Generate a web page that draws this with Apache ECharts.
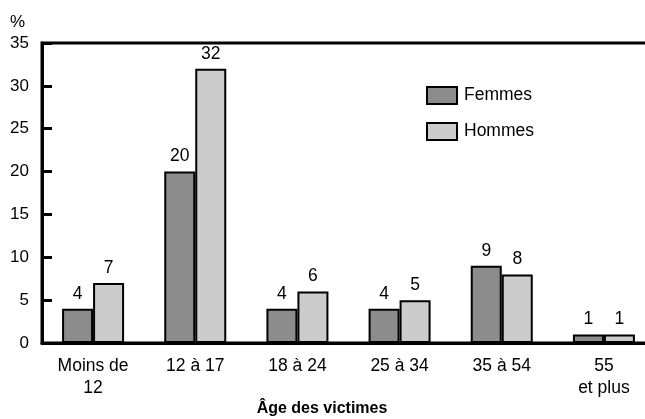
<!DOCTYPE html>
<html>
<head>
<meta charset="utf-8">
<script src="https://cdn.jsdelivr.net/npm/echarts@6/dist/echarts.min.js"></script>
<style>
  html, body { margin: 0; padding: 0; background: #fff; }
  #chart { width: 645px; height: 419px; }
</style>
</head>
<body>
<div id="chart"></div>
<script>
// données
const categories = ['Moins de\n12', '12 à 17', '18 à 24', '25 à 34', '35 à 54', '55\net plus']
const femmes = [4, 20, 4, 4, 9, 1]
const hommes = [7, 32, 6, 5, 8, 1]
const yTicks = [0, 5, 10, 15, 20, 25, 30, 35]

const font = 'Liberation Sans, Arial, sans-serif'

const chart = echarts.init(document.getElementById('chart'))

const barLabel = {
  show: true,
  position: 'top',
  distance: 6,
  color: '#000',
  fontSize: 17.5,
  fontFamily: font
}

chart.setOption({
  animation: false,
  grid: {
    left: 42,
    right: -10,
    top: 43,
    bottom: 76,
    outerBoundsMode: 'none',
    containLabel: false,
    show: true,
    borderColor: '#000',
    borderWidth: 3
  },
  legend: {
    orient: 'vertical',
    left: 421,
    top: 81,
    itemWidth: 30,
    itemHeight: 17,
    itemGap: 17,
    itemStyle: { borderColor: '#000', borderWidth: 2 },
    icon: 'rect',
    textStyle: { fontSize: 17.5, fontFamily: font, color: '#000', padding: [0, 0, 0, 2] },
    data: ['Femmes', 'Hommes']
  },
  graphic: [
    {
      type: 'text',
      left: 10,
      top: 14,
      style: { text: '%', fontSize: 17, fontFamily: font, fill: '#000' }
    },
    {
      type: 'text',
      x: 322,
      y: 409,
      style: {
        text: 'Âge des victimes',
        fontSize: 16,
        fontWeight: 'bold',
        fontFamily: font,
        fill: '#000',
        align: 'center',
        verticalAlign: 'middle'
      }
    }
  ],
  xAxis: {
    type: 'category',
    data: categories,
    axisLine: { lineStyle: { color: '#000', width: 3 } },
    axisTick: { show: false },
    axisLabel: {
      color: '#000',
      fontSize: 17.5,
      fontFamily: font,
      lineHeight: 22,
      margin: 12,
      interval: 0
    }
  },
  yAxis: [
    {
      type: 'value',
      min: yTicks[0],
      max: yTicks[yTicks.length - 1],
      interval: 5,
      splitLine: { show: false },
      axisLine: { show: true, lineStyle: { color: '#000', width: 3 } },
      axisTick: { show: true, inside: true, length: 10, lineStyle: { color: '#000', width: 3 } },
      axisLabel: { color: '#000', fontSize: 17, fontFamily: font, margin: 13 }
    },
    {
      type: 'value',
      position: 'right',
      min: yTicks[0],
      max: yTicks[yTicks.length - 1],
      interval: 5,
      splitLine: { show: false },
      axisLine: { show: true, lineStyle: { color: '#000', width: 3 } },
      axisTick: { show: true, inside: true, length: 10, lineStyle: { color: '#000', width: 3 } },
      axisLabel: { show: false }
    }
  ],
  series: [
    {
      name: 'Femmes',
      type: 'bar',
      data: femmes,
      barWidth: 31,
      barGap: '0%',
      itemStyle: { color: '#8c8c8c', borderColor: '#000', borderWidth: 2 },
      label: barLabel
    },
    {
      name: 'Hommes',
      type: 'bar',
      data: hommes,
      barWidth: 31,
      barGap: '0%',
      itemStyle: { color: '#cccccc', borderColor: '#000', borderWidth: 2 },
      label: barLabel
    }
  ]
})
</script>
</body>
</html>
